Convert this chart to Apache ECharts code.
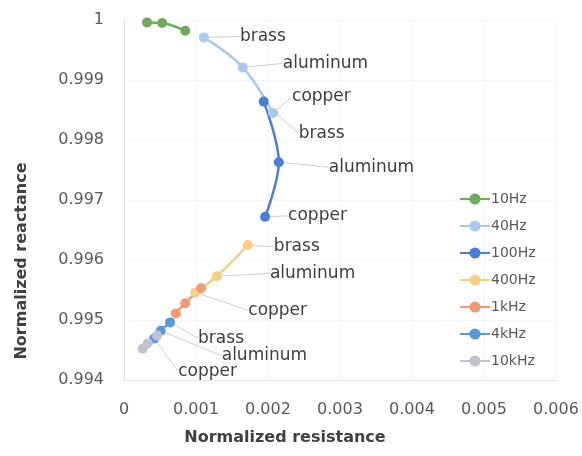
<!DOCTYPE html>
<html><head><meta charset="utf-8">
<script src="https://cdn.jsdelivr.net/npm/echarts@6/dist/echarts.min.js"></script>
<style>html,body{margin:0;padding:0;background:#fff}#c{width:582px;height:456px}</style>
</head><body><div id="c"></div>
<script>
const seriesNames = ['10Hz','40Hz','100Hz','400Hz','1kHz','4kHz','10kHz'];
const materials = ['brass','aluminum','copper'];
// resistance (x) and reactance (y) per series, order: brass, aluminum, copper
const res10Hz  = [0.00032, 0.00053, 0.00085];
const rea10Hz  = [0.99996, 0.99995, 0.99982];
const res40Hz  = [0.00111, 0.00165, 0.00207];
const rea40Hz  = [0.99971, 0.99921, 0.99845];
const res100Hz = [0.00194, 0.00215, 0.00196];
const rea100Hz = [0.99864, 0.99763, 0.99672];
const res400Hz = [0.00172, 0.00129, 0.00099];
const rea400Hz = [0.99625, 0.99573, 0.99546];
const res1kHz  = [0.00107, 0.00085, 0.00072];
const rea1kHz  = [0.99553, 0.99528, 0.99511];
const res4kHz  = [0.00064, 0.00051, 0.00042];
const rea4kHz  = [0.99496, 0.99482, 0.99469];
const res10kHz = [0.00046, 0.00033, 0.00026];
const rea10kHz = [0.99474, 0.99461, 0.99452];
const xTicks = [0, 0.001, 0.002, 0.003, 0.004, 0.005, 0.006];
const yTicks = [0.994, 0.995, 0.996, 0.997, 0.998, 0.999, 1];
const labelled = ['40Hz','100Hz','400Hz','4kHz'];

const resAll = [res10Hz,res40Hz,res100Hz,res400Hz,res1kHz,res4kHz,res10kHz];
const reaAll = [rea10Hz,rea40Hz,rea100Hz,rea400Hz,rea1kHz,rea4kHz,rea10kHz];
const colors = ['#6FA95A','#A9C9EE','#4A7FD6','#F7CE85','#F29B70','#5A99DE','#C2C3CD'];
// label placement offsets (px) from each marker, layout only
const labelOffsets = {
  '40Hz':  [[36,-1],[40,-4],[19,-16]],
  '100Hz': [[35,32],[50,5],[23,-1]],
  '400Hz': [[26,2],[53,-3],[53,18]],
  '4kHz':  [[28,16],[61,25],[24,33]]
};
const FONT = 'DejaVu Sans';
const series = seriesNames.map((name, si) => {
  const show = labelled.includes(name);
  return {
    name, type: 'line', smooth: 0.35,
    symbol: 'circle', symbolSize: 10,
    lineStyle: {width: 2.5, color: colors[si]},
    itemStyle: {color: colors[si]},
    emphasis: {disabled: true},
    data: resAll[si].map((x, i) => ({value: [x, reaAll[si][i]]})),
    label: {
      show, formatter: p => materials[p.dataIndex],
      fontFamily: FONT, fontSize: 17, color: '#404040'
    },
    labelLine: {show, lineStyle: {color: '#CFCFCF', width: 1}},
    labelLayout: show ? (params => {
      const o = labelOffsets[name][params.dataIndex];
      return {
        x: params.rect.x + params.rect.width / 2 + o[0],
        y: params.rect.y + params.rect.height / 2 + o[1],
        align: 'left', verticalAlign: 'middle'
      };
    }) : undefined
  };
});
const chart = echarts.init(document.getElementById('c'), null, {renderer: 'canvas'});
chart.setOption({
  animation: false,
  backgroundColor: '#ffffff',
  color: colors,
  grid: {left: 124, right: 26, top: 20, bottom: 76},
  xAxis: {
    type: 'value', min: xTicks[0], max: xTicks[xTicks.length-1], interval: 0.001,
    name: 'Normalized resistance', nameLocation: 'middle', nameGap: 50,
    nameTextStyle: {fontFamily: FONT, fontWeight: 'bold', fontSize: 16, color: '#404040', padding: [0, 110, 0, 0]},
    axisLine: {show: true, lineStyle: {color: '#E3E3E3'}},
    axisTick: {show: false},
    splitLine: {show: true, lineStyle: {color: '#F4F4F4'}},
    axisLabel: {fontFamily: FONT, fontSize: 16, color: '#595959', margin: 22,
      formatter: v => v === 0 ? '0' : v.toFixed(3)}
  },
  yAxis: {
    type: 'value', min: yTicks[0], max: yTicks[yTicks.length-1], interval: 0.001,
    name: 'Normalized reactance', nameLocation: 'middle', nameGap: 94, nameRotate: 90,
    nameTextStyle: {fontFamily: FONT, fontWeight: 'bold', fontSize: 16, color: '#404040', padding: [0, 122, 0, 0]},
    axisLine: {show: true, lineStyle: {color: '#E3E3E3'}},
    axisTick: {show: false},
    splitLine: {show: true, lineStyle: {color: '#F4F4F4'}},
    axisLabel: {fontFamily: FONT, fontSize: 16, color: '#595959', margin: 20,
      formatter: v => Math.abs(v - 1) < 1e-9 ? '1' : v.toFixed(3)}
  },
  legend: {
    orient: 'vertical', left: 454, top: 187,
    itemWidth: 30, itemHeight: 14, itemGap: 13,
    textStyle: {fontFamily: FONT, fontSize: 14, color: '#595959', padding: [0,0,0,-4]},
    data: seriesNames
  },
  series
});
</script></body></html>
